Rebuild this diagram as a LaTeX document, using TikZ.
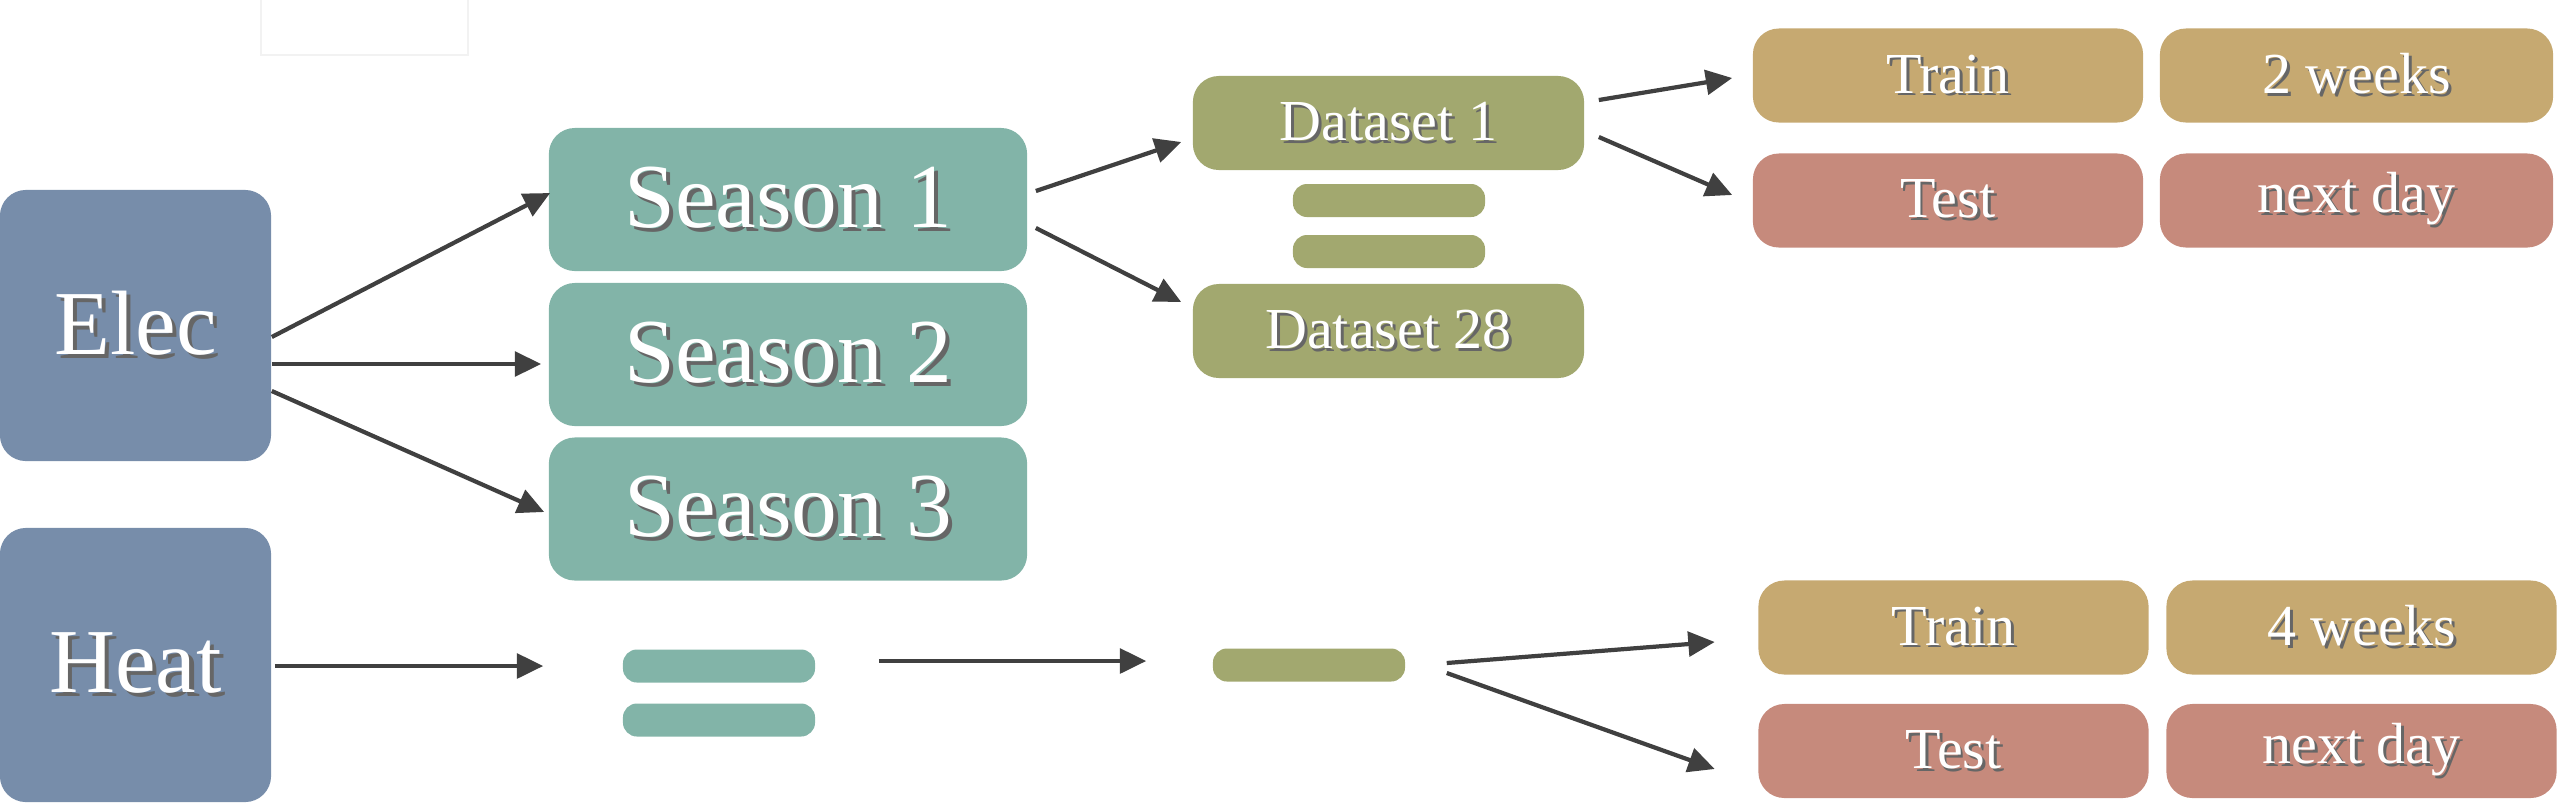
\documentclass[tikz,border=0pt]{standalone}
\usepackage{fontspec}
\setmainfont{Liberation Serif}
\usetikzlibrary{arrows.meta,calc}
\definecolor{cElec}{HTML}{778DAA}
\definecolor{cSeason}{HTML}{82B4A8}
\definecolor{cData}{HTML}{A2A86F}
\definecolor{cTrain}{HTML}{C6A971}
\definecolor{cTest}{HTML}{C68A7C}
\definecolor{cArrow}{HTML}{404040}
\newcommand{\shtxt}[2][1pt]{\makebox[0pt][l]{\hspace{#1}\raisebox{-#1}{\color{black!60}#2}}{\color{white}#2}}
\tikzset{
  box/.style={rounded corners=0.26cm, inner sep=0pt, anchor=center},
  srcbox/.style={box, fill=cElec, minimum width=2.71cm, minimum height=2.71cm, font=\fontsize{26}{30}\selectfont},
  seasonbox/.style={box, fill=cSeason, minimum width=4.78cm, minimum height=1.43cm, font=\fontsize{26}{30}\selectfont},
  databox/.style={box, fill=cData, minimum width=3.91cm, minimum height=0.94cm, font=\fontsize{16.5}{20}\selectfont},
  trainbox/.style={box, fill=cTrain, minimum width=3.9cm, minimum height=0.94cm, font=\fontsize{16.5}{20}\selectfont},
  testbox/.style={box, fill=cTest, minimum width=3.9cm, minimum height=0.94cm, font=\fontsize{16.5}{20}\selectfont},
  barbox/.style={inner sep=0pt, rounded corners=0.14cm, minimum width=1.92cm, minimum height=0.33cm, anchor=center},
  conn/.style={draw=cArrow, line width=1.2pt, -{Triangle[length=7.5pt,width=7pt]}},
}
\begin{document}
\begin{tikzpicture}[x=0.01cm, y=-0.01cm]
\useasboundingbox (0,0) rectangle (2559,802);
\draw[gray!10, line width=0.4pt] (261,0) -- (261,55) -- (468,55) -- (468,0);

% sources
\node[srcbox] (elec) at (135.5,325.5) {\shtxt[1.2pt]{Elec}};
\node[srcbox, minimum height=2.74cm] (heat) at (135.5,665) {\shtxt[1.2pt]{Heat}};

% seasons
\node[seasonbox] (s1) at (788,199.5) {\shtxt[1.2pt]{Season 1}};
\node[seasonbox] (s2) at (788,354.5) {\shtxt[1.2pt]{Season 2}};
\node[seasonbox] (s3) at (788,509) {\shtxt[1.2pt]{Season 3}};

% datasets
\node[databox] (d1) at (1388.5,123) {\shtxt[0.8pt]{Dataset 1}};
\node[barbox, fill=cData] (da) at (1389,200.5) {};
\node[barbox, fill=cData] (db) at (1389,251.5) {};
\node[databox] (d28) at (1388.5,331) {\shtxt[0.8pt]{Dataset 28}};

% top train/test
\node[trainbox] (tr1) at (1948,75.5) {\shtxt[0.8pt]{Train}};
\node[trainbox, minimum width=3.93cm] (w2) at (2356.5,75.5) {\shtxt[0.8pt]{2 weeks}};
\node[testbox] (te1) at (1948,200.5) {\shtxt[0.8pt]{Test}};
\node[testbox, minimum width=3.93cm] (nd1) at (2356.5,200.5) {\shtxt[0.8pt]{next day}};

% heat branch
\node[barbox, fill=cSeason] (ha) at (719,666) {};
\node[barbox, fill=cSeason] (hb) at (719,720) {};
\node[barbox, fill=cData] (hg) at (1309,665) {};
\node[trainbox] (tr2) at (1953.5,627.5) {\shtxt[0.8pt]{Train}};
\node[trainbox] (w4) at (2361.5,627.5) {\shtxt[0.8pt]{4 weeks}};
\node[testbox] (te2) at (1953.5,751) {\shtxt[0.8pt]{Test}};
\node[testbox] (nd2) at (2361.5,751) {\shtxt[0.8pt]{next day}};

% connectors
\draw[conn] ($(elec.east)+(0,11.5)$) -- ($(s1.west)+(2,-6.5)$);
\draw[conn] ($(elec.east)+(0,38.5)$) -- ($(s2.west)+(-7,9.5)$);
\draw[conn] ($(elec.east)+(0,65.5)$) -- ($(s3.west)+(-4,3)$);
\draw[conn] ($(s1.east)+(8,-8.5)$) -- ($(d1.west)+(-11,19)$);
\draw[conn] ($(s1.east)+(8,28.5)$) -- ($(d28.west)+(-11,-29)$);
\draw[conn] ($(d1.east)+(14,-23)$) -- ($(tr1.west)+(-20,2.5)$);
\draw[conn] ($(d1.east)+(14,14)$) -- ($(te1.west)+(-20,-5.5)$);
\draw[conn] ($(heat.east)+(3,1)$) -- ($(ha.west)+(-79,0)$);
\draw[conn] ($(ha.east)+(63,-5)$) -- ($(hg.west)+(-66,-4)$);
\draw[conn] ($(hg.east)+(41,-2)$) -- ($(tr2.west)+(-43,14.5)$);
\draw[conn] ($(hg.east)+(41,8)$) -- ($(te2.west)+(-43,18)$);
\end{tikzpicture}
\end{document}
